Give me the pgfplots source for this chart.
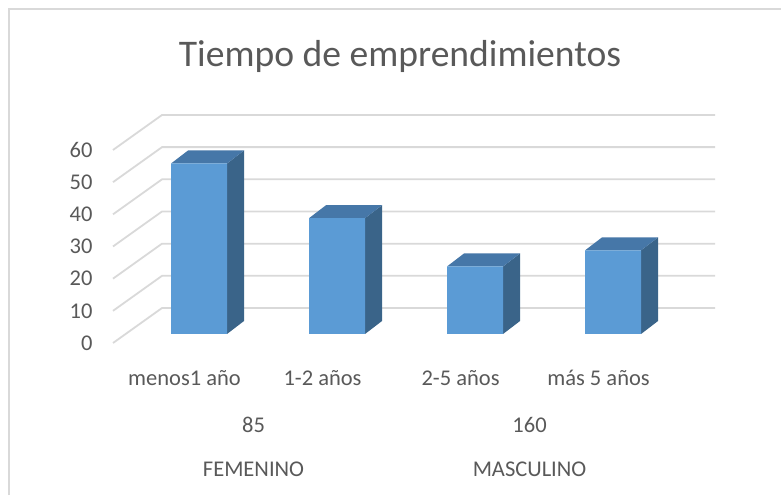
\documentclass[border=0pt]{standalone}
\usepackage{fontspec}
\setmainfont{Carlito}
\usepackage{pgfplots}
\pgfplotsset{compat=1.18}
\definecolor{txt}{HTML}{595959}
\definecolor{gridc}{HTML}{D9D9D9}
\definecolor{barfront}{HTML}{5B9BD5}
\definecolor{bartop}{HTML}{4677A8}
\definecolor{barside}{HTML}{3A6489}
\begin{document}
\begin{tikzpicture}
\begin{axis}[
  scale only axis, width=390.5pt, height=247.5pt,
  xmin=-1.442, xmax=4.217, ymin=-50.05, ymax=103.82,
  clip=false,
  axis line style={draw=none},
  tick style={draw=none},
  major tick length=0pt,
  /pgf/number format/assume math mode=true,
  ytick={-2.8,7.2,17.2,27.2,37.2,47.2,57.2},
  yticklabels={0,10,20,30,40,50,60},
  yticklabel style={anchor=east, xshift=49.75pt, font=\fontsize{11.25}{13.5}\selectfont, text=txt},
  xtick={-0.105,0.895,1.895,2.895},
  xticklabels={menos1 año,1-2 años,2-5 años,más 5 años},
  xticklabel style={anchor=base, yshift=55pt, font=\fontsize{11.25}{13.5}\selectfont, text=txt},
  extra x ticks={0.395,2.395},
  extra x tick labels={85,160},
  extra x tick style={tick label style={yshift=-23.5pt}},
  title={Tiempo de emprendimientos},
  title style={at={(axis description cs:0.5122,0.8424)}, anchor=base, font=\fontsize{18.8}{22}\selectfont, text=txt},
]
% frame
\addplot[gridc, line width=0.6pt, mark=none] coordinates {(-1.3768,-50.05) (-1.3768,101.03) (4.217,101.03)};
% gridlines (floor-to-back wall)
\addplot[gridc, line width=0.9pt, mark=none] coordinates {(-0.6232,-2.8) (-0.2681,8.08) (3.739,8.08)};
\addplot[gridc, line width=0.9pt, mark=none] coordinates {(-0.6232,7.2) (-0.2681,18.08) (3.739,18.08)};
\addplot[gridc, line width=0.9pt, mark=none] coordinates {(-0.6232,17.2) (-0.2681,28.08) (3.739,28.08)};
\addplot[gridc, line width=0.9pt, mark=none] coordinates {(-0.6232,27.2) (-0.2681,38.08) (3.739,38.08)};
\addplot[gridc, line width=0.9pt, mark=none] coordinates {(-0.6232,37.2) (-0.2681,48.08) (3.739,48.08)};
\addplot[gridc, line width=0.9pt, mark=none] coordinates {(-0.6232,47.2) (-0.2681,58.08) (3.739,58.08)};
\addplot[gridc, line width=0.9pt, mark=none] coordinates {(-0.6232,57.2) (-0.2681,68.08) (3.739,68.08)};
% side faces
\addplot[fill=barside, draw=none, mark=none] coordinates {(0.2029,0) (0.3261,4.04) (0.3261,57.04) (0.2029,53)};
\addplot[fill=barside, draw=none, mark=none] coordinates {(1.2029,0) (1.3261,4.04) (1.3261,40.04) (1.2029,36)};
\addplot[fill=barside, draw=none, mark=none] coordinates {(2.2029,0) (2.3261,4.04) (2.3261,25.04) (2.2029,21)};
\addplot[fill=barside, draw=none, mark=none] coordinates {(3.2029,0) (3.3261,4.04) (3.3261,30.04) (3.2029,26)};
% top faces
\addplot[fill=bartop, draw=none, mark=none] coordinates {(-0.2029,53) (0.2029,53) (0.3261,57.04) (-0.0797,57.04)};
\addplot[fill=bartop, draw=none, mark=none] coordinates {(0.7971,36) (1.2029,36) (1.3261,40.04) (0.9203,40.04)};
\addplot[fill=bartop, draw=none, mark=none] coordinates {(1.7971,21) (2.2029,21) (2.3261,25.04) (1.9203,25.04)};
\addplot[fill=bartop, draw=none, mark=none] coordinates {(2.7971,26) (3.2029,26) (3.3261,30.04) (2.9203,30.04)};
% front faces
\addplot[ybar, bar width=28pt, fill=barfront, draw=none] coordinates {(0,53) (1,36) (2,21) (3,26)};
% group names
\addplot[only marks, mark=none, point meta=explicit symbolic, nodes near coords,
  every node near coord/.style={anchor=base, font=\fontsize{11.25}{13.5}\selectfont, text=txt}]
  coordinates {(0.395,-44.45) [FEMENINO] (2.395,-44.45) [MASCULINO]};
\end{axis}
\pgfresetboundingbox
\useasboundingbox (0,0) rectangle (390.5pt,247.5pt);
\end{tikzpicture}
\end{document}
